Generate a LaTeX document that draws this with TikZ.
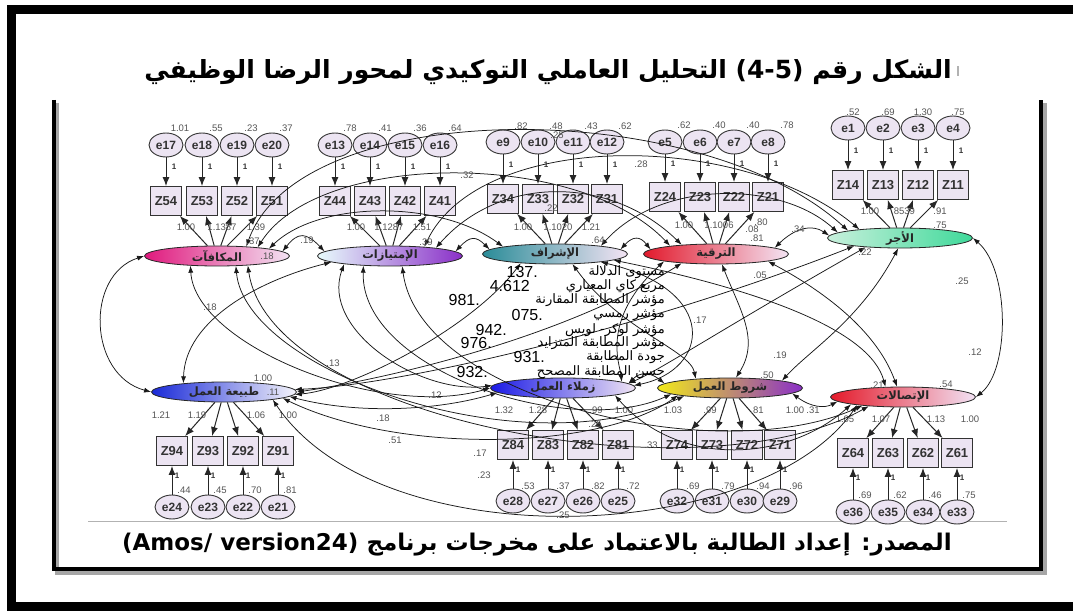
\documentclass[tikz,border=0pt]{standalone}
\usepackage{fontspec}
\setmainfont{Liberation Sans}
\newfontfamily\arabicfont[Script=Arabic]{DejaVu Sans}
\newfontfamily\dejalatin{DejaVu Sans}
\TeXXeTstate=1
\usetikzlibrary{arrows.meta,shapes.geometric}
\definecolor{boxfill}{HTML}{ECE4F2}
\definecolor{valgray}{HTML}{555555}
\begin{document}
\begin{tikzpicture}[x=1pt,y=-1pt,
  lat/.style={ellipse, draw=black!85, line width=0.8pt, minimum width=145pt, minimum height=20pt, inner sep=0pt,
     font=\arabicfont\bfseries\fontsize{11.5}{11.5}\selectfont, text=black!85},
  obs/.style={rectangle, draw=black!80, line width=0.9pt, fill=boxfill, minimum width=31pt, minimum height=29pt,
     inner sep=0pt, font=\bfseries\fontsize{13}{13}\selectfont, text=black!80},
  err/.style={ellipse, draw=black!80, line width=0.9pt, fill=boxfill, minimum width=34pt, minimum height=24pt,
     inner sep=0pt, font=\bfseries\fontsize{12}{12}\selectfont, text=black!80},
  val/.style={inner sep=0pt, font=\fontsize{9.5}{9.5}\selectfont, text=valgray},
  one/.style={inner sep=0pt, font=\bfseries\fontsize{8}{8}\selectfont, text=black!80},
  arr/.style={-{Latex[length=9pt,width=7pt]}, line width=1pt, black!85},
  cov/.style={{Latex[length=7pt,width=5pt]}-{Latex[length=7pt,width=5pt]}, line width=0.75pt, black!90},
  stat/.style={inner sep=0pt, anchor=east, font=\arabicfont\fontsize{13}{13}\selectfont},
  num/.style={inner sep=0pt, anchor=east, font=\fontsize{16}{16}\selectfont}
]
\useasboundingbox (0,0) rectangle (1073,612);
\fill[white] (0,0) rectangle (1073,612);
% outer frame
\fill[black] (7,5) rectangle (1073,14);
\fill[black] (7,5) rectangle (16,611);
\fill[black] (7,602) rectangle (1073,611);
% inner frame with shadow
\draw[black!35, line width=4pt] (57,103) -- (57,573) -- (1045,573) -- (1045,103);
\draw[black, line width=4pt] (54,100) -- (54,569) -- (1041,569) -- (1041,100);
\draw[black!30, line width=0.8pt] (88,521) -- (1007,521);
% title and source
\node[inner sep=0pt] (title) at (548,72) {\arabicfont\bfseries\fontsize{25}{25}\selectfont\beginR الشكل رقم \beginL{\dejalatin\bfseries (4-5)}\endL{} التحليل العاملي التوكيدي لمحور الرضا الوظيفي\endR};
\draw[black!30, line width=1.5pt] ([xshift=6pt,yshift=-4pt]title.east) -- ([xshift=6pt,yshift=6pt]title.east);
\node[inner sep=0pt] (source) at (537,545) {\arabicfont\bfseries\fontsize{23}{23}\selectfont\beginR المصدر: إعداد الطالبة بالاعتماد على مخرجات برنامج \beginL{\dejalatin\bfseries (Amos/ version24)}\endL\endR};

% latent ellipses
\node[lat, left color={rgb,255:red,224;green,25;blue,125}, right color={rgb,255:red,243;green,227;blue,243}] (A) at (217,256) {\beginR المكافآت\endR};
\node[lat, left color={rgb,255:red,232;green,252;blue,252}, middle color={rgb,255:red,156;green,200;blue,236}, right color={rgb,255:red,138;green,47;blue,200}] (B) at (390,256) {\beginR الإمتيازات\endR};
\node[lat, left color={rgb,255:red,42;green,140;blue,152}, middle color={rgb,255:red,200;green,184;blue,232}, right color={rgb,255:red,244;green,228;blue,244}] (C) at (555,254) {\beginR الإشراف\endR};
\node[lat, left color={rgb,255:red,226;green,26;blue,44}, middle color={rgb,255:red,240;green,154;blue,176}, right color={rgb,255:red,244;green,228;blue,244}] (D) at (716,254) {\beginR الترقية\endR};
\node[lat, left color={rgb,255:red,200;green,240;blue,220}, right color={rgb,255:red,63;green,217;blue,154}] (E) at (900,238) {\beginR الأجر\endR};
\node[lat, left color={rgb,255:red,26;green,42;blue,216}, right color={rgb,255:red,244;green,244;blue,250}] (F) at (224,392) {\beginR طبيعة العمل\endR};
\node[lat, left color={rgb,255:red,26;green,26;blue,230}, right color={rgb,255:red,240;green,228;blue,244}] (G) at (563,388) {\beginR زملاء العمل\endR};
\node[lat, left color={rgb,255:red,242;green,234;blue,26}, middle color={rgb,255:red,200;green,136;blue,112}, right color={rgb,255:red,138;green,47;blue,200}] (H) at (730,388) {\beginR شروط العمل\endR};
\node[lat, left color={rgb,255:red,228;green,26;blue,42}, right color={rgb,255:red,242;green,226;blue,244}] (I) at (903,397) {\beginR الإتصالات\endR};

% top groups
\foreach \x/\z/\e/\v in {166/Z54/e17/1.01, 202/Z53/e18/.55, 237/Z52/e19/.23, 272/Z51/e20/.37}{
  \node[err] (\e) at (\x,145) {\e};
  \node[obs] (\z) at (\x,201) {\z};
  \node[val] at (\x+14,128) {\v};
  \node[one] at (\x+8,167) {1};
  \draw[arr] (\e) -- (\z);
  \draw[arr] (A) -- (\z);
}
\foreach \x/\z/\e/\v in {335/Z44/e13/.78, 370/Z43/e14/.41, 405/Z42/e15/.36, 440/Z41/e16/.64}{
  \node[err] (\e) at (\x,145) {\e};
  \node[obs] (\z) at (\x,201) {\z};
  \node[val] at (\x+15,128) {\v};
  \node[one] at (\x+8,167) {1};
  \draw[arr] (\e) -- (\z);
  \draw[arr] (B) -- (\z);
}
\foreach \x/\z/\e/\v in {503/Z34/e9/.82, 538/Z33/e10/.48, 573/Z32/e11/.43, 607/Z31/e12/.62}{
  \node[err] (\e) at (\x,142) {\e};
  \node[obs] (\z) at (\x,199) {\z};
  \node[val] at (\x+18,126) {\v};
  \node[one] at (\x+8,165) {1};
  \draw[arr] (\e) -- (\z);
  \draw[arr] (C) -- (\z);
}
\foreach \x/\z/\e/\v in {665/Z24/e5/.62, 700/Z23/e6/.40, 734/Z22/e7/.40, 768/Z21/e8/.78}{
  \node[err] (\e) at (\x,142) {\e};
  \node[obs] (\z) at (\x,197) {\z};
  \node[val] at (\x+19,125) {\v};
  \node[one] at (\x+8,164) {1};
  \draw[arr] (\e) -- (\z);
  \draw[arr] (D) -- (\z);
}
\foreach \x/\z/\e/\v in {848/Z14/e1/.52, 883/Z13/e2/.69, 918/Z12/e3/1.30, 953/Z11/e4/.75}{
  \node[err] (\e) at (\x,128) {\e};
  \node[obs] (\z) at (\x,185) {\z};
  \node[val] at (\x+5,112) {\v};
  \node[one] at (\x+8,151) {1};
  \draw[arr] (\e) -- (\z);
  \draw[arr] (E) -- (\z);
}
% bottom groups
\foreach \x/\z/\e/\v in {172/Z94/e24/.44, 208/Z93/e23/.45, 243/Z92/e22/.70, 278/Z91/e21/.81}{
  \node[obs] (\z) at (\x,451) {\z};
  \node[err] (\e) at (\x,507) {\e};
  \node[val] at (\x+12,490) {\v};
  \node[one] at (\x+5,476) {1};
  \draw[arr] (\e) -- (\z);
  \draw[arr] (F) -- (\z);
}
\foreach \x/\z/\e/\v in {513/Z84/e28/.53, 548/Z83/e27/.37, 583/Z82/e26/.82, 618/Z81/e25/.72}{
  \node[obs] (\z) at (\x,445) {\z};
  \node[err] (\e) at (\x,501) {\e};
  \node[val] at (\x+15,486) {\v};
  \node[one] at (\x+5,470) {1};
  \draw[arr] (\e) -- (\z);
  \draw[arr] (G) -- (\z);
}
\foreach \x/\z/\e/\v in {677/Z74/e32/.69, 712/Z73/e31/.79, 747/Z72/e30/.94, 780/Z71/e29/.96}{
  \node[obs] (\z) at (\x,445) {\z};
  \node[err] (\e) at (\x,501) {\e};
  \node[val] at (\x+16,486) {\v};
  \node[one] at (\x+5,470) {1};
  \draw[arr] (\e) -- (\z);
  \draw[arr] (H) -- (\z);
}
\foreach \x/\z/\e/\v in {853/Z64/e36/.69, 888/Z63/e35/.62, 923/Z62/e34/.46, 957/Z61/e33/.75}{
  \node[obs] (\z) at (\x,453) {\z};
  \node[err] (\e) at (\x,512) {\e};
  \node[val] at (\x+12,495) {\v};
  \node[one] at (\x+5,478) {1};
  \draw[arr] (\e) -- (\z);
  \draw[arr] (I) -- (\z);
}

% loadings (top)
\node[val] at (186,227) {1.00}; \node[val] at (222,227) {1.1387}; \node[val] at (256,227) {1.39};
\node[val] at (356,227) {1.00}; \node[val] at (389,227) {1.1287}; \node[val] at (422,227) {1.51};
\node[val] at (523,227) {1.00}; \node[val] at (558,227) {1.1020}; \node[val] at (591,227) {1.21};
\node[val] at (684,225) {1.00}; \node[val] at (719,225) {1.1006}; \node[val] at (761,222) {.80};
\node[val] at (870,211) {1.00}; \node[val] at (903,211) {.8539}; \node[val] at (940,211) {.91};
\node[val] at (940,225) {.75};
% loadings (bottom)
\node[val] at (161,415) {1.21}; \node[val] at (197,415) {1.19}; \node[val] at (256,415) {1.06}; \node[val] at (288,415) {1.00};
\node[val] at (504,410) {1.32}; \node[val] at (538,410) {1.28}; \node[val] at (596,410) {.99}; \node[val] at (624,410) {1.00};
\node[val] at (673,410) {1.03}; \node[val] at (710,410) {.99}; \node[val] at (757,410) {.81}; \node[val] at (795,410) {1.00};
\node[val] at (845,419) {1.05}; \node[val] at (881,419) {1.07}; \node[val] at (936,419) {1.13}; \node[val] at (970,419) {1.00};

% covariances: top row
\draw[cov] (A.4) .. controls (298,232) and (306,232) .. (B.176);
\draw[cov] (A.8) .. controls (320,200) and (440,200) .. (C.172);
\draw[cov] (A.12) .. controls (320,150) and (580,150) .. (D.170);
\draw[cov] (A.18) .. controls (300,95) and (700,95) .. (E.172);
\draw[cov] (B.4) .. controls (470,236) and (476,236) .. (C.176);
\draw[cov] (B.10) .. controls (500,175) and (610,175) .. (D.165);
\draw[cov] (B.15) .. controls (480,130) and (740,130) .. (E.168);
\draw[cov] (C.4) .. controls (633,236) and (640,236) .. (D.176);
\draw[cov] (C.10) .. controls (660,180) and (780,180) .. (E.175);
\draw[cov] (D.6) .. controls (795,228) and (812,224) .. (E.178);
% covariances: bottom row
\draw[cov] (F.-4) .. controls (360,415) and (440,410) .. (G.-176);
\draw[cov] (F.-6) .. controls (400,455) and (600,450) .. (H.-172);
\draw[cov] (F.-9) .. controls (380,560) and (760,545) .. (I.-170);
\draw[cov] (G.4) .. controls (640,372) and (650,372) .. (H.176);
\draw[cov] (G.-8) .. controls (680,470) and (790,460) .. (I.-172);
\draw[cov] (H.-5) .. controls (812,408) and (825,408) .. (I.-176);
% covariances: cross
\draw[cov] (A.180) .. controls (85,275) and (88,375) .. (F.180);
\draw[cov] (A.-160) .. controls (195,345) and (380,420) .. (G.180);
\draw[cov] (A.-28) .. controls (245,370) and (520,470) .. (H.-170);
\draw[cov] (A.-17) .. controls (270,420) and (700,500) .. (I.-165);
\draw[cov] (B.-174) .. controls (260,280) and (185,320) .. (F.168);
\draw[cov] (B.-170) .. controls (320,330) and (420,395) .. (G.178);
\draw[cov] (B.-160) .. controls (360,370) and (570,440) .. (H.-174);
\draw[cov] (B.-40) .. controls (420,400) and (720,470) .. (I.-168);
\draw[cov] (C.-165) .. controls (470,330) and (350,390) .. (F.-2);
\draw[cov] (C.-10) .. controls (720,290) and (710,370) .. (G.2);
\draw[cov] (C.-30) .. controls (620,330) and (690,350) .. (H.165);
\draw[cov] (C.-6) .. controls (760,290) and (870,330) .. (I.150);
\draw[cov] (D.-165) .. controls (560,340) and (380,380) .. (F.0);
\draw[cov] (D.-172) .. controls (600,320) and (620,365) .. (G.6);
\draw[cov] (D.-60) .. controls (740,310) and (760,340) .. (H.60);
\draw[cov] (D.-8) .. controls (840,300) and (880,340) .. (I.120);
\draw[cov] (E.-170) .. controls (640,330) and (400,385) .. (F.2);
\draw[cov] (E.-165) .. controls (720,330) and (660,370) .. (G.4);
\draw[cov] (E.-100) .. controls (860,320) and (810,350) .. (H.8);
\draw[cov] (E.0) .. controls (1010,270) and (1010,370) .. (I.0);

% covariance / variance labels
\node[val] at (267,256) {.18};
\node[val] at (253,241) {.37};
\node[val] at (307,240) {.19};
\node[val] at (426,242) {.39};
\node[val] at (467,175) {.32};
\node[val] at (641,164) {.28};
\node[val] at (598,240) {.64};
\node[val] at (557,135) {.25};
\node[val] at (551,208) {.22};
\node[val] at (752,229) {.08};
\node[val] at (757,238) {.81};
\node[val] at (798,229) {.34};
\node[val] at (865,252) {.22};
\node[val] at (962,281) {.25};
\node[val] at (975,352) {.12};
\node[val] at (946,384) {.54};
\node[val] at (877,385) {.21};
\node[val] at (813,410) {.31};
\node[val] at (767,375) {.50};
\node[val] at (780,355) {.19};
\node[val] at (700,320) {.17};
\node[val] at (760,275) {.05};
\node[val] at (651,445) {.33};
\node[val] at (595,424) {.25};
\node[val] at (480,453) {.17};
\node[val] at (484,475) {.23};
\node[val] at (563,515) {.25};
\node[val] at (435,395) {.12};
\node[val] at (383,418) {.18};
\node[val] at (395,440) {.51};
\node[val] at (333,363) {.13};
\node[val] at (263,378) {1.00};
\node[val] at (273,392) {.11};
\node[val] at (210,307) {.18};

% fit statistics
\node[stat] (s1) at (665,272) {\beginR مستوى الدلالة\endR};
\node[stat] (s2) at (665,286) {\beginR مربع كاي المعياري\endR};
\node[stat] (s3) at (665,300) {\beginR مؤشر المطابقة المقارنة\endR};
\node[stat] (s4) at (665,315) {\beginR مؤشر رمسي\endR};
\node[stat] (s5) at (665,330) {\beginR مؤشر لوكر- لويس\endR};
\node[stat] (s6) at (665,343) {\beginR مؤشر المطابقة المتزايد\endR};
\node[stat] (s7) at (665,357) {\beginR جودة المطابقة\endR};
\node[stat] (s8) at (665,372) {\beginR حسن المطابقة المصحح\endR};
\node[num] at (538,272) {137.};
\node[num] at (530,286) {4.612};
\node[num] at (480,300) {981.};
\node[num] at (543,315) {075.};
\node[num] at (507,330) {942.};
\node[num] at (492,343) {976.};
\node[num] at (545,357) {931.};
\node[num] at (488,372) {932.};
\end{tikzpicture}
\end{document}
